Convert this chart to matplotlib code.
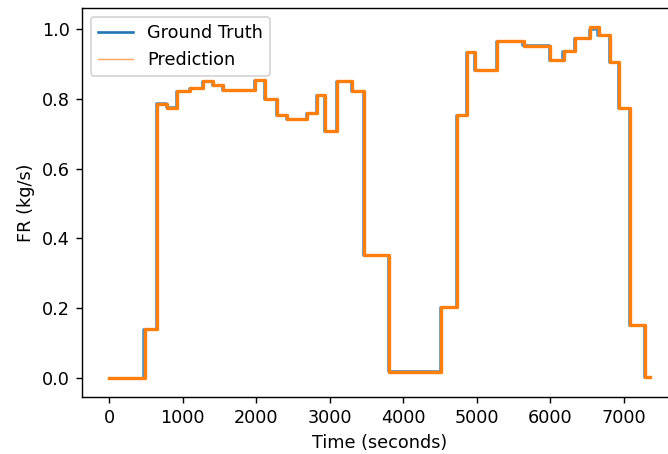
import matplotlib
matplotlib.use("Agg")
import matplotlib.pyplot as plt
from matplotlib.lines import Line2D

# Step start times (s) and levels (kg/s)
gt_times = [0, 466, 635, 771, 907, 1088, 1265, 1401, 1537, 1973, 2109, 2268, 2404,
            2676, 2812, 2925, 3084, 3288, 3447, 3787, 4503, 4717, 4853, 4966, 5261,
            5623, 5986, 6167, 6327, 6531, 6643, 6793, 6916, 7075, 7279, 7350]
gt_values = [0.0, 0.14, 0.788, 0.776, 0.823, 0.830, 0.851, 0.840, 0.826, 0.855, 0.798,
             0.754, 0.742, 0.760, 0.810, 0.709, 0.850, 0.823, 0.352, 0.020, 0.204,
             0.754, 0.934, 0.882, 0.966, 0.954, 0.911, 0.938, 0.973, 1.000, 0.983,
             0.906, 0.773, 0.153, 0.004, 0.004]

pred_times = [0, 490, 650, 785, 920, 1100, 1278, 1414, 1550, 1986, 2122, 2282, 2418,
              2690, 2826, 2940, 3098, 3302, 3462, 3802, 4518, 4732, 4868, 4980, 5275,
              5637, 6000, 6181, 6341, 6545, 6657, 6807, 6931, 7090, 7294, 7357]
pred_values = [0.0, 0.14, 0.785, 0.774, 0.823, 0.830, 0.850, 0.840, 0.826, 0.855, 0.798,
               0.754, 0.742, 0.760, 0.810, 0.709, 0.850, 0.823, 0.352, 0.018, 0.204,
               0.754, 0.934, 0.882, 0.966, 0.952, 0.911, 0.938, 0.973, 1.005, 0.983,
               0.906, 0.773, 0.153, 0.004, 0.004]

DPI = 127
fig = plt.figure(figsize=(668 / DPI, 454 / DPI), dpi=DPI)
ax = fig.add_axes([0.1228, 0.1256, 0.8907, 0.8568])

ax.plot(gt_times, gt_values, drawstyle="steps-post", color="#1f77b4", lw=1.5,
        alpha=0.8, label="Ground Truth")
ax.plot(pred_times, pred_values, drawstyle="steps-post", color="#ff7f0e", lw=1.9,
        label="Prediction")

ax.set_ylim(-0.054, 1.06)
ax.set_xlabel("Time (seconds)")
ax.set_ylabel("FR (kg/s)")
ax.set_xticks([0, 1000, 2000, 3000, 4000, 5000, 6000, 7000])
ax.set_yticks([0.0, 0.2, 0.4, 0.6, 0.8, 1.0])

handles = [Line2D([], [], color="#1f77b4", lw=1.5),
           Line2D([], [], color="#ff7f0e", lw=0.8, alpha=0.7)]
ax.legend(handles, ["Ground Truth", "Prediction"], loc="upper left")

fig.savefig("out.png", dpi=DPI)
